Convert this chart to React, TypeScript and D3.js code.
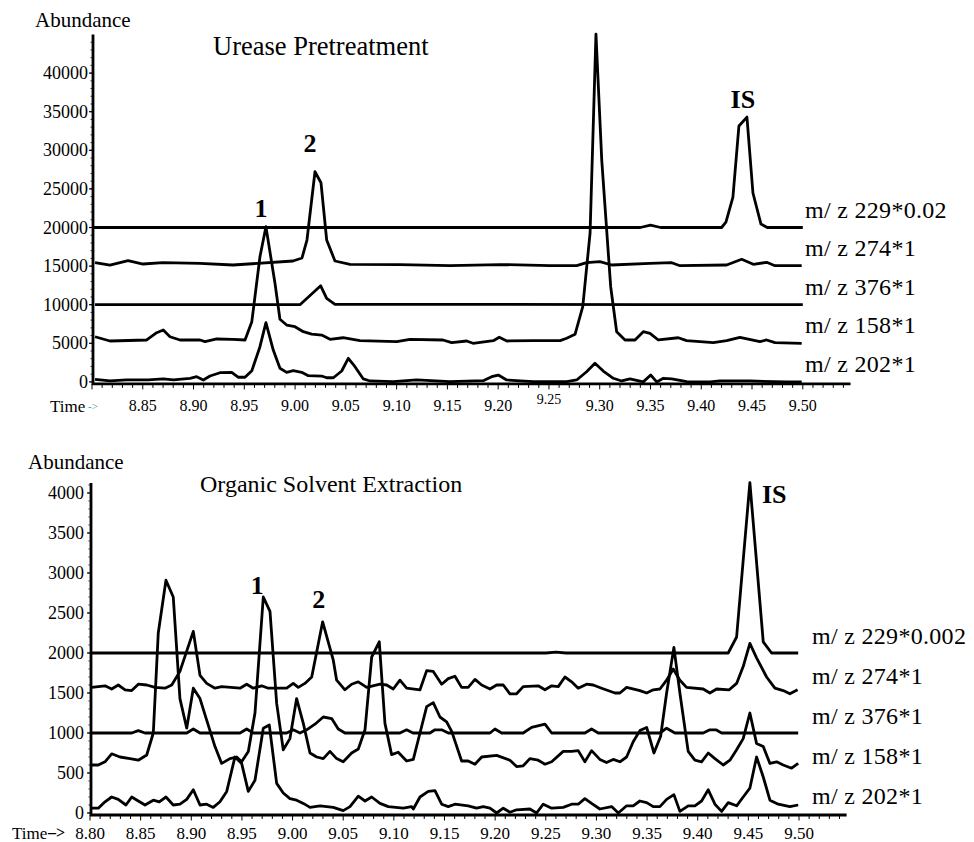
import React from 'react'
import * as d3 from 'd3'

type Pt = [number, number]

const FONT = '"Liberation Serif", "Times New Roman", Times, serif'

// ---------- Urease Pretreatment (top) ----------
const topTimeTicks = [8.85, 8.9, 8.95, 9.0, 9.05, 9.1, 9.15, 9.2, 9.25, 9.3, 9.35, 9.4, 9.45, 9.5]
const topAbundanceTicks = [0, 5000, 10000, 15000, 20000, 25000, 30000, 35000, 40000]
const topTraceNames = ['m/ z 229*0.02', 'm/ z 274*1', 'm/ z 376*1', 'm/ z 158*1', 'm/ z 202*1']
const topTraceLevels = [20000, 15000, 10000, 5000, 0]

const urease229: Pt[] = [
  [8.8, 20000], [9.34, 20000], [9.35, 20300], [9.36, 20000], [9.42, 20000], [9.4243, 20700],
  [9.4312, 23950], [9.4371, 33150], [9.445, 34300], [9.4509, 24470], [9.4588, 20450],
  [9.465, 20000], [9.5, 20000],
]
const urease274: Pt[] = [
  [8.803, 15440], [8.8177, 15140], [8.8355, 15700], [8.8502, 15270], [8.8699, 15440], [8.9064, 15360],
  [8.9388, 15140], [8.9979, 15660], [9.0068, 16050], [9.0117, 18380], [9.0196, 27220], [9.0255, 25800],
  [9.0311, 18380], [9.0393, 15660], [9.0541, 15230], [9.1033, 15200], [9.1525, 15070], [9.2018, 15200],
  [9.251, 15070], [9.2773, 15050], [9.2871, 15440], [9.3002, 15570], [9.3118, 15140], [9.3495, 15360],
  [9.3709, 15440], [9.3791, 15050], [9.425, 15140], [9.4398, 15880], [9.4512, 15230], [9.4644, 15490],
  [9.4726, 15050], [9.4989, 15050],
]
const urease376: Pt[] = [
  [8.803, 10000], [8.99, 10000], [9.0048, 10000], [9.0252, 12450], [9.0311, 10830], [9.0393, 10050],
  [9.2, 10050], [9.35, 10000], [9.5, 10000],
]
const urease158: Pt[] = [
  [8.803, 5850], [8.8177, 5300], [8.8539, 5430], [8.8637, 6370], [8.8702, 6720], [8.8768, 5850],
  [8.8867, 5430], [8.9064, 5430], [8.9113, 5210], [8.9228, 5560], [8.9388, 5520], [8.9507, 5430],
  [8.9574, 7800], [8.9654, 16210], [8.9713, 20100], [8.9802, 12770], [8.9851, 8110], [8.9917, 7370],
  [8.9999, 7150], [9.0081, 6500], [9.0163, 6200], [9.0262, 6070], [9.0344, 5520], [9.0472, 5720],
  [9.0639, 5340], [9.1001, 5210], [9.1131, 5520], [9.1456, 5430], [9.1542, 5080], [9.169, 5300],
  [9.1752, 5000], [9.1952, 5340], [9.2011, 5780], [9.2085, 5300], [9.2344, 5340], [9.261, 5340],
  [9.2675, 5650], [9.2757, 6160], [9.2833, 9740], [9.2905, 19280], [9.2963, 45050], [9.302, 28740],
  [9.3108, 12330], [9.3167, 6500], [9.3249, 5430], [9.3348, 5430], [9.3429, 6500], [9.3495, 6290],
  [9.3577, 5430], [9.3774, 5720], [9.3856, 5340], [9.4118, 5080], [9.425, 5340], [9.4381, 5780],
  [9.4578, 5210], [9.4644, 5430], [9.4726, 5080], [9.4989, 5000],
]
const urease202: Pt[] = [
  [8.803, 340], [8.8177, 120], [8.8342, 250], [8.8554, 250], [8.8702, 380], [8.8801, 250], [8.8965, 470],
  [8.9031, 670], [8.9096, 250], [8.9162, 760], [8.926, 1190], [8.9376, 1240], [8.9442, 600], [8.9507, 600],
  [8.9574, 1450], [8.9654, 4560], [8.9713, 7670], [8.9785, 4130], [8.9851, 1760], [8.9917, 1240],
  [8.9982, 1450], [9.0065, 1240], [9.013, 800], [9.0262, 760], [9.0311, 540], [9.0377, 540], [9.0459, 1410],
  [9.0524, 3060], [9.059, 1970], [9.0672, 380], [9.0738, 120], [9.0967, 30], [9.1198, 250], [9.1525, 30],
  [9.1853, 160], [9.1936, 670], [9.2001, 890], [9.2084, 250], [9.2346, 30], [9.2675, 30], [9.2773, 250],
  [9.2871, 1320], [9.2953, 2410], [9.3035, 1410], [9.3134, 470], [9.3216, 120], [9.3298, 380], [9.3429, 0],
  [9.3502, 890], [9.3561, 0], [9.3627, 470], [9.3709, 380], [9.3857, 30], [9.4086, 0], [9.4184, 120],
  [9.448, 120], [9.4841, 0], [9.4989, 0],
]

// ---------- Organic Solvent Extraction (bottom) ----------
const bottomTimeTicks = [8.8, 8.85, 8.9, 8.95, 9.0, 9.05, 9.1, 9.15, 9.2, 9.25, 9.3, 9.35, 9.4, 9.45, 9.5]
const bottomAbundanceTicks = [0, 500, 1000, 1500, 2000, 2500, 3000, 3500, 4000]
const bottomTraceNames = ['m/ z 229*0.002', 'm/ z 274*1', 'm/ z 376*1', 'm/ z 158*1', 'm/ z 202*1']
const bottomTraceLevels = [2000, 1500, 1000, 500, 0]

const organic229: Pt[] = [
  [8.8017, 2000], [9.25, 2000], [9.26, 2012], [9.27, 2000], [9.4301, 2000], [9.4384, 2200],
  [9.4515, 4130], [9.4647, 2140], [9.4729, 2000], [9.4992, 2000],
]
const organic274: Pt[] = [
  [8.8017, 1570], [8.8148, 1590], [8.8214, 1550], [8.8279, 1600], [8.8346, 1540], [8.8412, 1530],
  [8.8477, 1610], [8.856, 1600], [8.8642, 1570], [8.874, 1560], [8.8807, 1600], [8.8888, 1770],
  [8.902, 2270], [8.9086, 1720], [8.9152, 1620], [8.9234, 1560], [8.93, 1580], [8.9481, 1560],
  [8.9547, 1610], [8.9612, 1560], [8.9695, 1590], [8.976, 1560], [8.9942, 1560], [9.0007, 1620],
  [9.0056, 1570], [9.0122, 1620], [9.0189, 1700], [9.0297, 2390], [9.0402, 1910], [9.0435, 1660],
  [9.0517, 1540], [9.0583, 1610], [9.0649, 1640], [9.0732, 1570], [9.0863, 1610], [9.0929, 1600],
  [9.0994, 1550], [9.106, 1660], [9.1126, 1560], [9.1258, 1540], [9.1324, 1780], [9.1389, 1770],
  [9.1472, 1610], [9.1537, 1680], [9.1603, 1710], [9.1669, 1570], [9.1734, 1570], [9.1801, 1670],
  [9.1867, 1600], [9.1949, 1550], [9.2015, 1600], [9.208, 1600], [9.2146, 1490], [9.2212, 1490],
  [9.2277, 1580], [9.2425, 1590], [9.2492, 1540], [9.2558, 1590], [9.2623, 1580], [9.2689, 1700],
  [9.2755, 1640], [9.282, 1560], [9.2903, 1610], [9.2968, 1600], [9.3051, 1560], [9.3183, 1500],
  [9.3232, 1500], [9.3298, 1570], [9.3429, 1530], [9.3496, 1500], [9.3561, 1540], [9.3627, 1550],
  [9.3693, 1660], [9.3758, 1800], [9.3824, 1660], [9.389, 1570], [9.4054, 1550], [9.412, 1500],
  [9.4186, 1550], [9.4311, 1540], [9.4384, 1620], [9.4449, 1830], [9.4515, 2120], [9.4581, 1940],
  [9.468, 1700], [9.4762, 1560], [9.4844, 1530], [9.491, 1490], [9.4986, 1540],
]
const organic376: Pt[] = [
  [8.8017, 1000], [8.8412, 1000], [8.8477, 1030], [8.8543, 1000], [8.8955, 1000], [8.902, 1050],
  [8.9086, 1000], [8.9481, 1000], [8.9547, 1050], [8.9612, 1000], [8.9942, 1000], [9.0007, 1040],
  [9.0073, 1000], [9.0139, 1040], [9.0221, 1110], [9.0303, 1200], [9.0386, 1180], [9.0451, 1050],
  [9.0517, 1000], [9.106, 1000], [9.1126, 1040], [9.1189, 1000], [9.1356, 1000], [9.1406, 1040],
  [9.1472, 1040], [9.1537, 1000], [9.1949, 1000], [9.1998, 1050], [9.2064, 1000], [9.2277, 1000],
  [9.236, 1070], [9.2492, 1110], [9.2558, 1000], [9.2886, 1000], [9.2952, 1050], [9.3018, 1000],
  [9.3627, 1000], [9.3693, 1060], [9.3775, 1000], [9.4054, 1000], [9.412, 1040], [9.418, 1040],
  [9.4236, 1000], [9.4992, 1000],
]
const organic158: Pt[] = [
  [8.8017, 600], [8.8082, 600], [8.8148, 640], [8.8214, 740], [8.8296, 700], [8.8395, 680], [8.8477, 660],
  [8.856, 725], [8.8625, 1000], [8.8674, 2250], [8.875, 2910], [8.8822, 2700], [8.8888, 1430],
  [8.8955, 1060], [8.902, 1560], [8.9086, 1430], [8.9152, 1160], [8.9234, 830], [8.93, 620],
  [8.9382, 680], [8.9448, 700], [8.9497, 640], [8.9563, 770], [8.9629, 1250], [8.9711, 2700],
  [8.9777, 2520], [8.9843, 1370], [8.9908, 790], [8.9974, 930], [9.004, 1430], [9.0106, 1120],
  [9.0172, 750], [9.0238, 700], [9.0303, 680], [9.0369, 770], [9.0435, 680], [9.05, 640], [9.0583, 750],
  [9.0649, 800], [9.0715, 1040], [9.0781, 1950], [9.0856, 2140], [9.0912, 1120], [9.0978, 730],
  [9.1043, 760], [9.1126, 650], [9.1192, 670], [9.1258, 1000], [9.1324, 1330], [9.1389, 1380],
  [9.1455, 1200], [9.1521, 1140], [9.1571, 1020], [9.1669, 650], [9.1734, 650], [9.1801, 610],
  [9.1867, 700], [9.2015, 720], [9.2146, 660], [9.2212, 580], [9.2277, 590], [9.2343, 680], [9.2425, 660],
  [9.2492, 610], [9.2558, 640], [9.2672, 770], [9.2755, 770], [9.282, 780], [9.2886, 640], [9.2952, 780],
  [9.3034, 670], [9.31, 630], [9.3166, 670], [9.3232, 640], [9.3298, 700], [9.3363, 890], [9.3429, 1030],
  [9.3496, 1070], [9.3568, 750], [9.3634, 960], [9.3693, 1500], [9.3765, 2070], [9.3824, 1500],
  [9.3906, 770], [9.3972, 660], [9.4038, 640], [9.4104, 750], [9.417, 680], [9.4252, 600], [9.4318, 660],
  [9.4384, 790], [9.4449, 930], [9.4515, 1250], [9.4581, 870], [9.4647, 830], [9.4713, 620],
  [9.4779, 640], [9.4844, 600], [9.4927, 560], [9.4992, 620],
]
const organic202: Pt[] = [
  [8.8017, 60], [8.8082, 60], [8.8148, 140], [8.8214, 200], [8.8279, 170], [8.8355, 100], [8.8412, 200],
  [8.8477, 150], [8.8543, 100], [8.8625, 160], [8.8684, 140], [8.875, 200], [8.8822, 100], [8.8888, 110],
  [8.8955, 170], [8.902, 290], [8.9086, 100], [8.9152, 110], [8.9217, 70], [8.9283, 140], [8.935, 270],
  [8.9431, 700], [8.9497, 620], [8.9563, 270], [8.9629, 410], [8.9711, 1060], [8.977, 1100],
  [8.9843, 370], [8.9908, 250], [8.9974, 180], [9.004, 160], [9.0106, 120], [9.0172, 70], [9.0271, 90],
  [9.0402, 70], [9.05, 30], [9.0567, 80], [9.0649, 210], [9.0715, 150], [9.0781, 200], [9.0863, 120],
  [9.0945, 80], [9.1093, 60], [9.1175, 80], [9.1192, 50], [9.1258, 200], [9.134, 270], [9.1406, 280],
  [9.1472, 110], [9.1537, 80], [9.1603, 110], [9.1734, 90], [9.1817, 60], [9.1883, 80], [9.1949, 60],
  [9.2015, 0], [9.208, 60], [9.2146, 10], [9.2212, 40], [9.2343, 50], [9.2409, 0], [9.2475, 110],
  [9.2558, 60], [9.2672, 70], [9.2755, 110], [9.282, 110], [9.2886, 180], [9.2952, 120], [9.3034, 50],
  [9.315, 80], [9.3216, 0], [9.3298, 90], [9.3363, 90], [9.3429, 150], [9.3496, 130], [9.3561, 80],
  [9.3627, 80], [9.3693, 170], [9.3765, 230], [9.3824, 20], [9.3906, 90], [9.3972, 90], [9.4038, 150],
  [9.4104, 290], [9.417, 110], [9.4236, 20], [9.4301, 130], [9.4384, 90], [9.4449, 200], [9.4515, 310],
  [9.4581, 700], [9.4647, 450], [9.4713, 160], [9.4795, 110], [9.491, 80], [9.4992, 100],
]

const minorTimes = d3.range(0, 75).map(i => +(8.8 + i * 0.01).toFixed(2))

type PanelCfg = {
  title: string
  titleX: number
  titleY: number
  titleSize: number
  abundanceX: number
  abundanceY: number
  xRange: [number, number]
  yDomain: [number, number]
  yRange: [number, number]
  timeTicks: number[]
  abundanceTicks: number[]
  minorStep: number
  traces: Pt[][]
  traceNames: string[]
  traceLevels: number[]
  namesX: number
  nameOffset: number
  yLabelEnd: number
  xLabelY: number
  xLabelSize: number
  peaks: { text: string; t: number; v: number; dx: number; anchor: string }[]
  time: React.ReactNode
}

function Panel({ c }: { c: PanelCfg }) {
  const x = d3.scaleLinear().domain([8.8, 9.5]).range(c.xRange)
  const y = d3.scaleLinear().domain(c.yDomain).range(c.yRange)
  const line = d3.line<Pt>().x(d => x(d[0])).y(d => y(d[1]))
  const ax = x(8.8) + 1
  const ay = y(0) + 2
  const axEnd = x(9.547)
  const minorAb = d3.range(0, c.yDomain[1], c.minorStep)

  return (
    <g>
      <text x={c.abundanceX} y={c.abundanceY} fontSize={21}>Abundance</text>
      <text x={c.titleX} y={c.titleY} fontSize={c.titleSize}>{c.title}</text>

      {/* y axis */}
      <line x1={ax} x2={ax} y1={c.yRange[1]} y2={ay + 1} stroke="#000" strokeWidth={2.8} />
      {minorAb.map(v => (
        <line key={'ym' + v} x1={ax - 2.5} x2={ax} y1={y(v)} y2={y(v)} stroke="#000" strokeWidth={0.8} />
      ))}
      {c.abundanceTicks.map(v => (
        <g key={'yt' + v}>
          <line x1={ax - 4} x2={ax} y1={y(v)} y2={y(v)} stroke="#000" strokeWidth={1.2} />
          <text x={c.yLabelEnd} y={y(v) + 6} fontSize={18} textAnchor="end">{v}</text>
        </g>
      ))}

      {/* x axis */}
      <line x1={ax - 1} x2={axEnd} y1={ay} y2={ay} stroke="#000" strokeWidth={2.8} />
      {minorTimes.map(t => (
        <line key={'xm' + t} x1={x(t)} x2={x(t)} y1={ay} y2={ay + (Math.round(t * 100) % 5 === 0 ? 5.5 : 4)}
          stroke="#000" strokeWidth={1} />
      ))}
      {c.timeTicks.map(t => {
        const odd = c.timeTicks.length === 14 && t === 9.25
        return (
          <text key={'xt' + t} x={x(t)} y={c.xLabelY - (odd ? 7 : 0)} fontSize={odd ? 14 : c.xLabelSize}
            textAnchor="middle">{t.toFixed(2)}</text>
        )
      })}
      {c.time}

      {/* traces */}
      {c.traces.map((tr, i) => (
        <path key={'tr' + i} d={line(tr) || ''} fill="none" stroke="#000" strokeWidth={2.8}
          strokeLinejoin="round" />
      ))}
      {c.traceNames.map((n, i) => (
        <text key={'nm' + i} x={c.namesX} y={y(c.traceLevels[i]) - c.nameOffset} fontSize={24}
          letterSpacing={0.3}>{n}</text>
      ))}
      {c.peaks.map(p => (
        <text key={'pk' + p.text} x={x(p.t) + p.dx} y={y(p.v)} fontSize={26} fontWeight="bold"
          textAnchor={p.anchor}>{p.text}</text>
      ))}
    </g>
  )
}

const topCfg: PanelCfg = {
  title: 'Urease Pretreatment',
  titleX: 213,
  titleY: 55,
  titleSize: 26.5,
  abundanceX: 35,
  abundanceY: 27,
  xRange: [92, 802.8],
  yDomain: [0, 45000],
  yRange: [381.9, 34.5],
  timeTicks: topTimeTicks,
  abundanceTicks: topAbundanceTicks,
  minorStep: 1000,
  traces: [urease229, urease274, urease376, urease158, urease202],
  traceNames: topTraceNames,
  traceLevels: topTraceLevels,
  namesX: 805,
  nameOffset: 10,
  yLabelEnd: 88,
  xLabelY: 411,
  xLabelSize: 16,
  peaks: [
    { text: '1', t: 8.9713, v: 21400, dx: -5, anchor: 'middle' },
    { text: '2', t: 9.0196, v: 29800, dx: -5, anchor: 'middle' },
    { text: 'IS', t: 9.441, v: 35500, dx: 0, anchor: 'middle' },
  ],
  time: (
    <g>
      <text x={50} y={412} fontSize={17}>Time</text>
      <text x={88} y={410} fontSize={11} fill="#3a9c9c">-&gt;</text>
    </g>
  ),
}

const bottomCfg: PanelCfg = {
  title: 'Organic Solvent Extraction',
  titleX: 200,
  titleY: 492,
  titleSize: 24,
  abundanceX: 28,
  abundanceY: 469,
  xRange: [90, 799],
  yDomain: [0, 4125],
  yRange: [813, 483],
  timeTicks: bottomTimeTicks,
  abundanceTicks: bottomAbundanceTicks,
  minorStep: 100,
  traces: [organic229, organic274, organic376, organic158, organic202],
  traceNames: bottomTraceNames,
  traceLevels: bottomTraceLevels,
  namesX: 812,
  nameOffset: 9,
  yLabelEnd: 84,
  xLabelY: 839,
  xLabelSize: 17,
  peaks: [
    { text: '1', t: 8.9711, v: 2740, dx: -6, anchor: 'middle' },
    { text: '2', t: 9.0297, v: 2560, dx: -4, anchor: 'middle' },
    { text: 'IS', t: 9.4515, v: 3880, dx: 12, anchor: 'start' },
  ],
  time: (
    <g>
      <text x={12} y={839} fontSize={17}>Time</text>
      <text x={48} y={838} fontSize={16} fontWeight="bold">–&gt;</text>
    </g>
  ),
}

export default function App() {
  return (
    <svg width={974} height={842} viewBox="0 0 974 842"
      style={{ position: 'absolute', left: 0, top: 0, background: '#fff' }}>
      <rect x={0} y={0} width={974} height={842} fill="#fff" />
      <g fontFamily={FONT} fill="#000">
        <Panel c={topCfg} />
        <Panel c={bottomCfg} />
      </g>
    </svg>
  )
}
